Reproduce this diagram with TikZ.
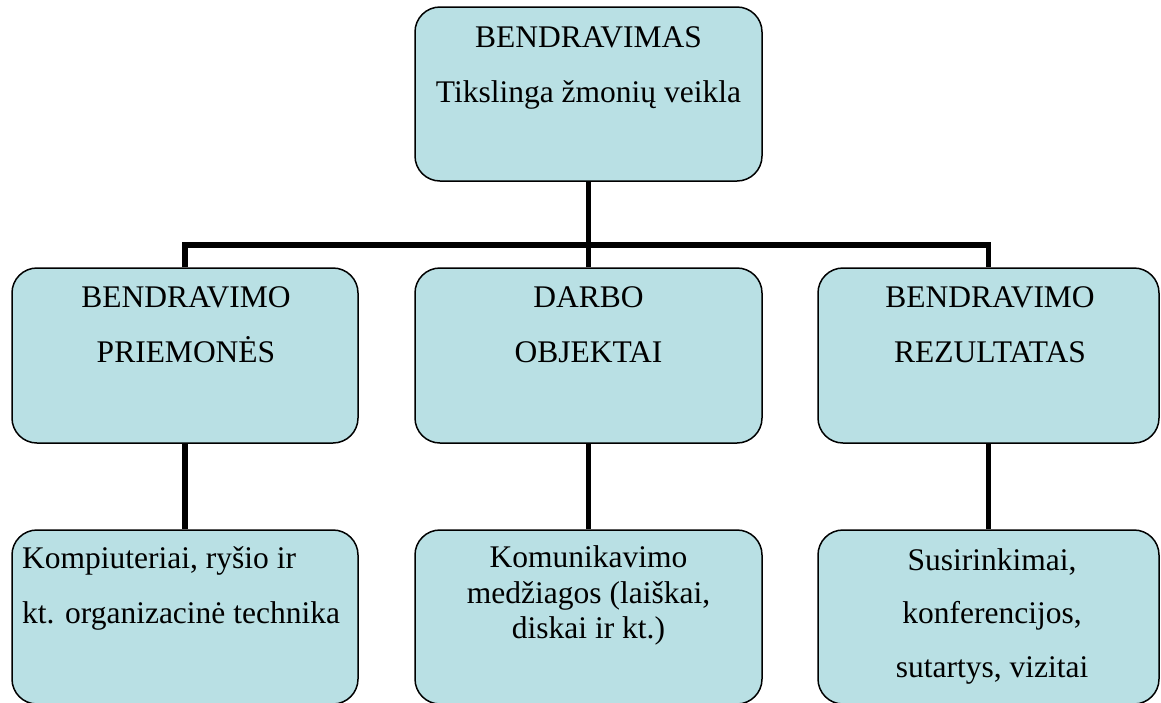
\documentclass[tikz,border=0pt]{standalone}
\usepackage{fontspec}
\setmainfont{Liberation Serif}
\definecolor{boxfill}{RGB}{185,224,228}
\newcommand{\lblfont}{\fontsize{31.5}{36}\selectfont}
\begin{document}
\begin{tikzpicture}[x=1pt,y=-1pt,
  box/.style={draw=black, line width=1.5pt, fill=boxfill, rounded corners=25pt,
              inner sep=0pt, minimum height=#1},
  box/.default=175pt,
  conn/.style={draw=black, line width=5.5pt},
  lbl/.style={inner sep=0pt, anchor=base, font=\lblfont},
  lbll/.style={inner sep=0pt, anchor=base west, font=\lblfont}]
\useasboundingbox (0,0) rectangle (1161,702);

% boxes
\node[box=174pt, minimum width=347pt] (top) at (588.5,94) {};
\node[box, minimum width=346pt] (m1) at (185,355.5) {};
\node[box, minimum width=347pt] (m2) at (588.5,355.5) {};
\node[box, minimum width=341pt] (m3) at (988.5,355.5) {};
\node[box=174pt, minimum width=346pt] (b1) at (185,617) {};
\node[box=174pt, minimum width=347pt] (b2) at (588.5,617) {};
\node[box=174pt, minimum width=341pt] (b3) at (988.5,617) {};

% connectors
\coordinate (bus) at (588.5,245);
\draw[conn] (top.south) -- (top.south |- bus);
\draw[conn] (m1.north) -- (m1.north |- bus) -- (m3.north |- bus) -- (m3.north);
\draw[conn] (m2.north) -- (m2.north |- bus);
\draw[conn] (m1.south) -- (b1.north);
\draw[conn] (m2.south) -- (b2.north);
\draw[conn] (m3.south) -- (b3.north);

% texts
\node[lbl] (t1) at (588.5,47) {BENDRAVIMAS};
\node[lbl] (t2) at (588.5,102) {Tikslinga žmonių veikla};

\node[lbl] (l1) at (186,307) {BENDRAVIMO};
\node[lbl] (l2) at (186,362) {PRIEMONĖS};
\node[lbl] (c1) at (588.5,307) {DARBO};
\node[lbl] (c2) at (588.5,362) {OBJEKTAI};
\node[lbl] (r1) at (990,307) {BENDRAVIMO};
\node[lbl] (r2) at (990,362) {REZULTATAS};

\node[lbll] (bl1) at (22,568) {Kompiuteriai, ryšio ir};
\node[lbll] (bl2) at (22,623) {kt. organizacinė technika};
\node[lbl] (bc1) at (588.5,567) {Komunikavimo};
\node[lbl] (bc2) at (588.5,603) {medžiagos (laiškai,};
\node[lbl] (bc3) at (588.5,638) {diskai ir kt.)};
\node[lbl] (br1) at (992,570) {Susirinkimai,};
\node[lbl] (br2) at (992,623) {konferencijos,};
\node[lbl] (br3) at (992,677) {sutartys, vizitai};
\end{tikzpicture}
\end{document}
